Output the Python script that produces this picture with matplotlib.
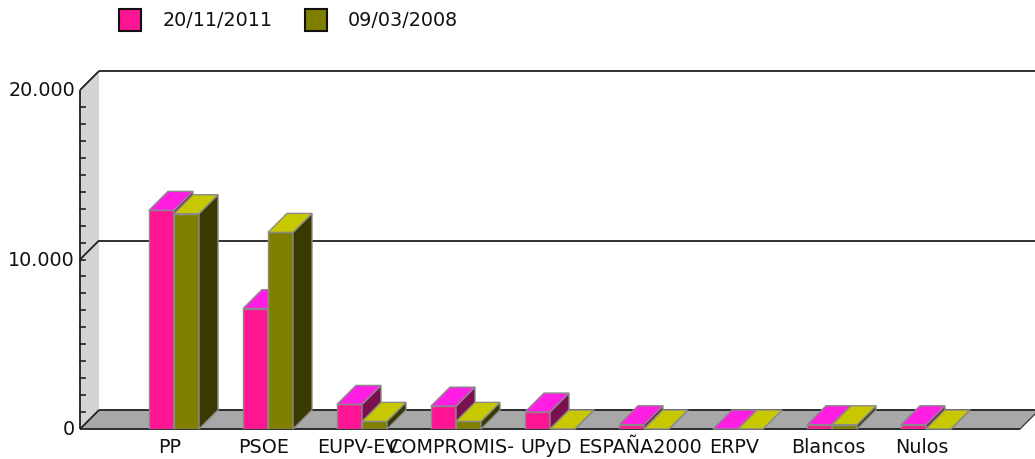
import matplotlib
matplotlib.use('Agg')
import matplotlib.pyplot as plt
from matplotlib.patches import Polygon, Rectangle

categories = ["PP", "PSOE", "EUPV-EV", "COMPROMIS-", "UPyD", "ESPAÑA2000", "ERPV", "Blancos", "Nulos"]
votes_2011 = [12900, 7100, 1450, 1350, 1000, 250, 0, 250, 250]
votes_2008 = [12700, 11600, 450, 450, 0, 0, 0, 250, 0]
series_labels = ["20/11/2011", "09/03/2008"]
y_ticks = [0, 10000, 20000]
y_tick_labels = ["0", "10.000", "20.000"]

plt.rcParams['font.family'] = ['DejaVu Sans']
FS = 13.8

W, H = 1035, 460
fig = plt.figure(figsize=(W / 100, H / 100), dpi=100)
L, R, B, T = 80, 1020, 430, 91
ax = fig.add_axes([L / W, (H - B) / H, (R - L) / W, (B - T) / H])
n = len(categories)
x0, x1 = -1, n
ymax = 20000
ax.set_xlim(x0, x1)
ax.set_ylim(0, ymax)
ax.axis('off')

pxx = (x1 - x0) / (R - L)      # data units per pixel (x)
pxy = ymax / (B - T)           # data units per pixel (y)
DP = 19
ddx, ddy = DP * pxx, DP * pxy

# left side wall
ax.add_patch(Polygon([(x0, 0), (x0 + ddx, ddy), (x0 + ddx, ymax + ddy), (x0, ymax)],
                     closed=True, fc='#d4d4d4', ec='none', zorder=1, clip_on=False))
# floor
ax.add_patch(Polygon([(x0, 0), (x1, 0), (x1 + ddx, ddy), (x0 + ddx, ddy)],
                     closed=True, fc='#a8a8a8', ec='none', zorder=1, clip_on=False))

lk = dict(color='#202020', lw=1.3, zorder=2, clip_on=False, solid_capstyle='butt')
for v in y_ticks:
    ax.plot([x0 + ddx, x1 + ddx + 1], [v + ddy, v + ddy], **lk)
    ax.plot([x0, x0 + ddx], [v, v + ddy], **lk)
ax.plot([x0, x0], [0, ymax], **lk)
ax.plot([x0, x1], [0, 0], **lk)
ax.plot([x1, x1 + ddx], [0, ddy], color='#404040', lw=1.0, zorder=2, clip_on=False)
# minor ticks
for v in range(1000, ymax, 1000):
    ax.plot([x0, x0 + 5 * pxx], [v, v], color='#202020', lw=1.2, zorder=2, clip_on=False)

for v, lab in zip(y_ticks, y_tick_labels):
    ax.text(x0 - 5 * pxx, v, lab, ha='right', va='center', fontsize=FS, color='#111111')

bw = 25 * pxx
series = [
    (votes_2011, -bw, '#FF1493', '#FF1EE2', '#7A1050'),
    (votes_2008, 0.0, '#808000', '#C8C800', '#3A3A00'),
]
xs = list(range(n))
ec = '#8a8a8a'
containers = []
for vals, off, cf, ct, cs in series:
    bars = ax.bar([x + off for x in xs], vals, width=bw, align='edge', color=cf,
                  edgecolor=ec, linewidth=1.0)
    containers.append(bars)

for si, (vals, off, cf, ct, cs) in enumerate(series):
    for i, (rect, v) in enumerate(zip(containers[si], vals)):
        z = 10 + i * 10 + si * 3
        rect.set_zorder(z)
        l = i + off
        r = l + bw
        top = Polygon([(l, v), (r, v), (r + ddx, v + ddy), (l + ddx, v + ddy)], closed=True,
                      fc=ct, ec=ec, lw=1.0, zorder=z + 1, clip_on=False)
        side = Polygon([(r, 0), (r + ddx, ddy), (r + ddx, v + ddy), (r, v)], closed=True,
                       fc=cs, ec=ec, lw=1.0, zorder=z + 1, clip_on=False)
        ax.add_patch(side)
        ax.add_patch(top)

for i, c in enumerate(categories):
    ax.text(i - 4 * pxx, -18 * pxy, c, ha='center', va='center', fontsize=FS, color='#111111')

# legend
for (sx, tx), lab, col in zip([(119, 163), (305, 348)], series_labels, ['#FF1493', '#808000']):
    fig.add_artist(Rectangle((sx / W, (H - 32) / H), 22 / W, 22 / H, transform=fig.transFigure,
                             fc=col, ec='#111111', lw=1.5))
    fig.text(tx / W, (H - 20) / H, lab, ha='left', va='center', fontsize=FS, color='#111111')

fig.savefig('out.png', dpi=100)
